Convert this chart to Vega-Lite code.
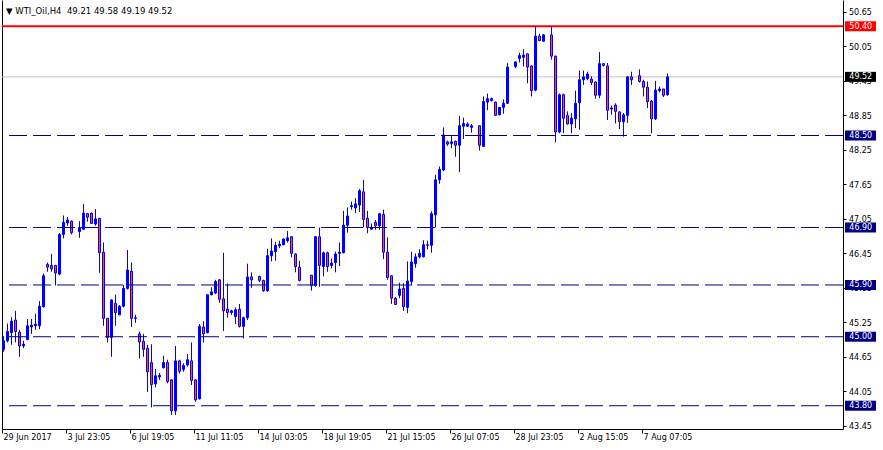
{
  "$schema": "https://vega.github.io/schema/vega-lite/v6.json",
  "width": 841,
  "height": 429,
  "autosize": {"type": "none"},
  "padding": {"left": 2, "top": 0, "right": 40, "bottom": 21},
  "background": "#ffffff",
  "config": {
    "view": {"stroke": null},
    "axis": {"grid": false}
  },
  "datasets": {
    "header": [
      {"text": "▼\u00a0WTI_Oil,H4\u00a0\u00a049.21 49.58 49.19 49.52"}
    ],
    "candles": [
      {"i":0,"o":44.78,"h":45.01,"l":44.74,"c":44.93},
      {"i":1,"o":44.93,"h":45.23,"l":44.90,"c":45.09},
      {"i":2,"o":45.07,"h":45.34,"l":44.86,"c":45.27},
      {"i":3,"o":45.29,"h":45.45,"l":44.90,"c":45.09},
      {"i":4,"o":45.08,"h":45.12,"l":44.65,"c":44.84},
      {"i":5,"o":44.84,"h":44.93,"l":44.80,"c":44.87},
      {"i":6,"o":44.95,"h":45.31,"l":44.94,"c":45.19},
      {"i":7,"o":45.17,"h":45.31,"l":45.05,"c":45.20},
      {"i":8,"o":45.19,"h":45.40,"l":45.12,"c":45.22},
      {"i":9,"o":45.19,"h":45.62,"l":45.13,"c":45.53},
      {"i":10,"o":45.52,"h":46.10,"l":45.51,"c":46.06},
      {"i":11,"o":46.26,"h":46.29,"l":46.13,"c":46.21},
      {"i":12,"o":46.24,"h":46.44,"l":46.13,"c":46.18},
      {"i":13,"o":46.24,"h":46.25,"l":45.89,"c":46.11},
      {"i":14,"o":46.09,"h":46.80,"l":46.07,"c":46.78},
      {"i":15,"o":46.78,"h":47.11,"l":46.71,"c":46.99},
      {"i":16,"o":46.98,"h":47.08,"l":46.93,"c":47.03},
      {"i":17,"o":47.01,"h":47.02,"l":46.78,"c":46.81},
      {"i":19,"o":46.83,"h":47.01,"l":46.72,"c":46.90},
      {"i":20,"o":46.87,"h":47.31,"l":46.86,"c":47.15},
      {"i":21,"o":47.14,"h":47.15,"l":47.00,"c":47.08},
      {"i":22,"o":47.15,"h":47.16,"l":46.96,"c":46.97},
      {"i":23,"o":46.96,"h":47.22,"l":46.93,"c":47.05},
      {"i":24,"o":47.06,"h":47.06,"l":46.11,"c":46.46},
      {"i":25,"o":46.47,"h":46.64,"l":45.19,"c":45.32},
      {"i":26,"o":45.32,"h":45.32,"l":44.90,"c":44.99},
      {"i":27,"o":44.99,"h":45.65,"l":44.65,"c":45.64},
      {"i":28,"o":45.58,"h":45.73,"l":45.19,"c":45.42},
      {"i":29,"o":45.38,"h":45.55,"l":45.38,"c":45.53},
      {"i":30,"o":45.53,"h":45.90,"l":45.51,"c":45.84},
      {"i":31,"o":45.84,"h":46.51,"l":45.82,"c":46.16},
      {"i":32,"o":46.14,"h":46.29,"l":45.17,"c":45.32},
      {"i":33,"o":45.32,"h":45.38,"l":45.24,"c":45.33},
      {"i":34,"o":45.05,"h":45.09,"l":44.62,"c":44.91},
      {"i":35,"o":44.92,"h":45.05,"l":44.65,"c":44.78},
      {"i":36,"o":44.80,"h":44.86,"l":44.04,"c":44.39},
      {"i":37,"o":44.55,"h":44.87,"l":43.77,"c":44.17},
      {"i":38,"o":44.18,"h":44.44,"l":44.12,"c":44.32},
      {"i":39,"o":44.30,"h":44.37,"l":44.25,"c":44.33},
      {"i":40,"o":44.46,"h":44.67,"l":44.45,"c":44.55},
      {"i":41,"o":44.55,"h":44.60,"l":44.19,"c":44.22},
      {"i":42,"o":44.25,"h":44.26,"l":43.64,"c":43.71},
      {"i":43,"o":43.71,"h":44.84,"l":43.64,"c":44.58},
      {"i":44,"o":44.58,"h":44.60,"l":44.36,"c":44.40},
      {"i":45,"o":44.43,"h":44.54,"l":44.39,"c":44.50},
      {"i":46,"o":44.51,"h":44.70,"l":44.48,"c":44.60},
      {"i":47,"o":44.58,"h":44.90,"l":44.16,"c":44.24},
      {"i":48,"o":44.25,"h":44.26,"l":43.87,"c":43.90},
      {"i":49,"o":43.92,"h":45.22,"l":43.91,"c":45.18},
      {"i":50,"o":45.17,"h":45.27,"l":44.90,"c":45.05},
      {"i":51,"o":45.07,"h":45.73,"l":45.06,"c":45.73},
      {"i":52,"o":45.73,"h":45.86,"l":45.72,"c":45.78},
      {"i":53,"o":45.76,"h":45.99,"l":45.74,"c":45.96},
      {"i":54,"o":45.99,"h":46.00,"l":45.59,"c":45.65},
      {"i":55,"o":45.66,"h":46.46,"l":45.10,"c":45.45},
      {"i":56,"o":45.48,"h":45.93,"l":45.33,"c":45.42},
      {"i":57,"o":45.42,"h":45.47,"l":45.38,"c":45.45},
      {"i":58,"o":45.35,"h":45.51,"l":45.22,"c":45.47},
      {"i":59,"o":45.48,"h":45.57,"l":45.16,"c":45.18},
      {"i":60,"o":45.18,"h":45.35,"l":44.97,"c":45.33},
      {"i":61,"o":45.33,"h":46.27,"l":45.29,"c":46.04},
      {"i":62,"o":46.04,"h":46.12,"l":45.85,"c":45.99},
      {"i":64,"o":46.05,"h":46.06,"l":45.95,"c":45.98},
      {"i":65,"o":45.98,"h":45.99,"l":45.78,"c":45.80},
      {"i":66,"o":45.80,"h":46.53,"l":45.78,"c":46.41},
      {"i":67,"o":46.41,"h":46.71,"l":46.31,"c":46.49},
      {"i":68,"o":46.48,"h":46.65,"l":46.32,"c":46.59},
      {"i":69,"o":46.58,"h":46.67,"l":46.54,"c":46.61},
      {"i":70,"o":46.60,"h":46.71,"l":46.59,"c":46.70},
      {"i":71,"o":46.67,"h":46.84,"l":46.64,"c":46.72},
      {"i":72,"o":46.74,"h":46.74,"l":46.38,"c":46.45},
      {"i":73,"o":46.44,"h":46.45,"l":46.12,"c":46.22},
      {"i":74,"o":46.21,"h":46.32,"l":45.96,"c":45.98},
      {"i":77,"o":46.07,"h":46.07,"l":45.80,"c":45.89},
      {"i":78,"o":45.89,"h":46.74,"l":45.87,"c":46.74},
      {"i":79,"o":46.74,"h":46.90,"l":45.87,"c":46.24},
      {"i":80,"o":46.22,"h":46.48,"l":46.05,"c":46.46},
      {"i":81,"o":46.46,"h":46.48,"l":46.13,"c":46.22},
      {"i":82,"o":46.24,"h":46.36,"l":46.19,"c":46.28},
      {"i":83,"o":46.29,"h":46.48,"l":46.12,"c":46.44},
      {"i":84,"o":46.45,"h":46.64,"l":46.23,"c":46.47},
      {"i":85,"o":46.46,"h":47.19,"l":46.45,"c":46.94},
      {"i":86,"o":46.94,"h":47.25,"l":46.81,"c":47.10},
      {"i":87,"o":47.26,"h":47.35,"l":47.21,"c":47.28},
      {"i":88,"o":47.24,"h":47.41,"l":47.15,"c":47.31},
      {"i":89,"o":47.29,"h":47.57,"l":47.17,"c":47.54},
      {"i":90,"o":47.52,"h":47.73,"l":46.90,"c":47.04},
      {"i":91,"o":47.06,"h":47.19,"l":46.80,"c":46.90},
      {"i":92,"o":46.87,"h":46.97,"l":46.86,"c":46.90},
      {"i":93,"o":46.99,"h":47.03,"l":46.86,"c":46.93},
      {"i":94,"o":46.93,"h":47.15,"l":46.86,"c":47.14},
      {"i":95,"o":47.13,"h":47.21,"l":46.35,"c":46.47},
      {"i":96,"o":46.47,"h":46.73,"l":45.99,"c":46.03},
      {"i":97,"o":46.06,"h":46.07,"l":45.57,"c":45.67},
      {"i":98,"o":45.67,"h":45.69,"l":45.55,"c":45.56},
      {"i":99,"o":45.72,"h":45.94,"l":45.67,"c":45.83},
      {"i":100,"o":45.84,"h":45.93,"l":45.45,"c":45.52},
      {"i":101,"o":45.51,"h":46.31,"l":45.41,"c":45.97},
      {"i":102,"o":45.96,"h":46.48,"l":45.89,"c":46.30},
      {"i":103,"o":46.27,"h":46.45,"l":46.20,"c":46.39},
      {"i":104,"o":46.39,"h":46.52,"l":46.36,"c":46.45},
      {"i":105,"o":46.39,"h":46.68,"l":46.38,"c":46.60},
      {"i":106,"o":46.59,"h":46.67,"l":46.52,"c":46.60},
      {"i":107,"o":46.59,"h":47.18,"l":46.46,"c":47.14},
      {"i":108,"o":47.12,"h":47.82,"l":46.90,"c":47.73},
      {"i":109,"o":47.73,"h":47.96,"l":47.66,"c":47.91},
      {"i":110,"o":47.90,"h":48.64,"l":47.88,"c":48.51},
      {"i":111,"o":48.39,"h":48.41,"l":48.32,"c":48.35},
      {"i":112,"o":48.36,"h":48.49,"l":48.28,"c":48.39},
      {"i":113,"o":48.40,"h":48.41,"l":48.13,"c":48.33},
      {"i":114,"o":48.33,"h":48.84,"l":47.86,"c":48.67},
      {"i":115,"o":48.66,"h":48.81,"l":48.44,"c":48.71},
      {"i":116,"o":48.66,"h":48.73,"l":48.65,"c":48.70},
      {"i":117,"o":48.64,"h":48.70,"l":48.55,"c":48.67},
      {"i":119,"o":48.67,"h":48.68,"l":48.24,"c":48.33},
      {"i":120,"o":48.31,"h":49.18,"l":48.31,"c":49.09},
      {"i":121,"o":49.08,"h":49.23,"l":48.94,"c":49.14},
      {"i":122,"o":49.11,"h":49.16,"l":49.09,"c":49.14},
      {"i":123,"o":49.08,"h":49.09,"l":48.84,"c":48.85},
      {"i":124,"o":48.86,"h":48.99,"l":48.85,"c":48.99},
      {"i":125,"o":48.99,"h":49.13,"l":48.88,"c":49.06},
      {"i":126,"o":49.06,"h":49.76,"l":49.05,"c":49.69},
      {"i":128,"o":49.70,"h":49.79,"l":49.67,"c":49.78},
      {"i":129,"o":49.84,"h":49.94,"l":49.77,"c":49.89},
      {"i":130,"o":49.86,"h":50.00,"l":49.70,"c":49.90},
      {"i":131,"o":49.92,"h":49.93,"l":49.41,"c":49.69},
      {"i":132,"o":49.71,"h":49.72,"l":49.18,"c":49.28},
      {"i":133,"o":49.29,"h":50.41,"l":49.27,"c":50.23},
      {"i":134,"o":50.23,"h":50.27,"l":50.14,"c":50.15},
      {"i":135,"o":50.14,"h":50.26,"l":50.14,"c":50.25},
      {"i":137,"o":50.25,"h":50.41,"l":49.82,"c":49.88},
      {"i":138,"o":49.88,"h":49.89,"l":48.38,"c":48.56},
      {"i":139,"o":48.56,"h":49.23,"l":48.54,"c":49.21},
      {"i":140,"o":49.21,"h":49.23,"l":48.54,"c":48.80},
      {"i":141,"o":48.85,"h":48.92,"l":48.69,"c":48.70},
      {"i":142,"o":48.70,"h":48.89,"l":48.54,"c":48.80},
      {"i":143,"o":48.79,"h":49.28,"l":48.63,"c":49.06},
      {"i":144,"o":49.07,"h":49.63,"l":48.60,"c":49.47},
      {"i":145,"o":49.47,"h":49.63,"l":49.38,"c":49.52},
      {"i":146,"o":49.49,"h":49.61,"l":49.46,"c":49.57},
      {"i":147,"o":49.48,"h":49.53,"l":49.38,"c":49.42},
      {"i":148,"o":49.43,"h":49.44,"l":49.14,"c":49.20},
      {"i":149,"o":49.20,"h":49.95,"l":49.15,"c":49.75},
      {"i":150,"o":49.75,"h":49.76,"l":49.70,"c":49.72},
      {"i":151,"o":49.71,"h":49.76,"l":48.77,"c":48.94},
      {"i":152,"o":48.96,"h":49.02,"l":48.86,"c":48.98},
      {"i":153,"o":49.03,"h":49.06,"l":48.71,"c":48.92},
      {"i":154,"o":48.91,"h":48.92,"l":48.61,"c":48.74},
      {"i":155,"o":48.74,"h":48.89,"l":48.48,"c":48.86},
      {"i":156,"o":48.85,"h":49.53,"l":48.72,"c":49.52},
      {"i":157,"o":49.52,"h":49.61,"l":49.38,"c":49.47},
      {"i":159,"o":49.54,"h":49.65,"l":49.42,"c":49.44},
      {"i":160,"o":49.44,"h":49.47,"l":49.18,"c":49.34},
      {"i":161,"o":49.34,"h":49.44,"l":48.98,"c":49.09},
      {"i":162,"o":49.10,"h":49.12,"l":48.54,"c":48.79},
      {"i":163,"o":48.79,"h":49.45,"l":48.77,"c":49.29},
      {"i":164,"o":49.28,"h":49.35,"l":49.25,"c":49.31},
      {"i":165,"o":49.31,"h":49.31,"l":49.17,"c":49.20},
      {"i":166,"o":49.21,"h":49.58,"l":49.19,"c":49.52}
    ],
    "levels": [
      {"price": 50.40, "kind": "high"},
      {"price": 49.52, "kind": "bid"},
      {"price": 48.50, "kind": "level"},
      {"price": 46.90, "kind": "level"},
      {"price": 45.90, "kind": "level"},
      {"price": 45.00, "kind": "level"},
      {"price": 43.80, "kind": "level"}
    ]
  },
  "resolve": {"axis": {"y": "independent"}},
  "layer": [
    {
      "data": {"name": "levels"},
      "transform": [{"filter": "datum.kind === 'bid'"}],
      "mark": {"type": "rule", "color": "#c0c0c0", "strokeWidth": 1},
      "encoding": {
        "y": {
          "field": "price", "type": "quantitative",
          "scale": {"domain": [43.395, 50.857], "nice": false, "zero": false, "padding": 0},
          "axis": {"orient": "left", "labels": false, "ticks": false, "domain": true, "domainColor": "#000000", "title": null, "grid": false}
        }
      }
    },
    {
      "data": {"name": "candles"},
      "mark": {"type": "rule", "color": "#0000ff", "strokeWidth": 1},
      "encoding": {
        "x": {
          "field": "i", "type": "quantitative",
          "scale": {"domain": [-0.375, 209.875], "nice": false, "zero": false, "padding": 0},
          "axis": {
            "orient": "bottom",
            "values": [-0.375, 15.625, 31.625, 47.625, 63.625, 79.625, 95.625, 111.625, 127.625, 143.625, 159.625],
            "labelExpr": "['29 Jun 2017','3 Jul 23:05','6 Jul 19:05','11 Jul 11:05','14 Jul 03:05','18 Jul 19:05','21 Jul 15:05','26 Jul 07:05','28 Jul 23:05','2 Aug 15:05','7 Aug 07:05'][round((datum.value + 0.375) / 16)]",
            "title": null, "grid": false,
            "domainColor": "#000000", "tickColor": "#000000", "tickSize": 4,
            "labelColor": "#000000", "labelFont": "DejaVu Sans", "labelFontSize": 8,
            "labelAlign": "left", "labelBaseline": "alphabetic", "labelPadding": 6.5,
            "labelOverlap": false, "labelOffset": 1, "labelFlush": false
          }
        },
        "y": {
          "field": "l", "type": "quantitative",
          "axis": {
            "orient": "right",
            "values": [43.45, 44.05, 44.65, 45.25, 45.85, 46.45, 47.05, 47.65, 48.25, 48.85, 49.45, 50.05, 50.65],
            "format": ".2f", "title": null, "grid": false,
            "domainColor": "#000000", "tickColor": "#000000", "tickSize": 3,
            "labelColor": "#000000", "labelFont": "DejaVu Sans", "labelFontSize": 8,
            "labelPadding": 2.5, "labelAlign": "left", "labelBaseline": "middle",
            "labelOverlap": false, "labelOffset": 1
          }
        },
        "y2": {"field": "h"}
      }
    },
    {
      "data": {"name": "candles"},
      "mark": {"type": "bar", "size": 2, "stroke": "#0000ff", "strokeWidth": 1},
      "encoding": {
        "x": {"field": "i", "type": "quantitative"},
        "y": {"field": "o", "type": "quantitative", "axis": null},
        "y2": {"field": "c"},
        "fill": {"condition": {"test": "datum.c < datum.o", "value": "#ff4d1a"}, "value": "#0000ff"}
      }
    },
    {
      "data": {"name": "levels"},
      "transform": [{"filter": "datum.kind === 'level'"}],
      "mark": {"type": "rule", "color": "#000080", "strokeWidth": 1, "strokeDash": [18, 6]},
      "encoding": {
        "y": {"field": "price", "type": "quantitative", "axis": null}
      }
    },
    {
      "data": {"name": "levels"},
      "transform": [{"filter": "datum.kind === 'high'"}],
      "mark": {"type": "rule", "color": "#ff0000", "strokeWidth": 2},
      "encoding": {
        "y": {"field": "price", "type": "quantitative", "axis": null}
      }
    },
    {
      "data": {"name": "levels"},
      "mark": {"type": "bar", "size": 10, "orient": "horizontal"},
      "encoding": {
        "x": {"datum": 210.375, "type": "quantitative"},
        "x2": {"datum": 218.125},
        "y": {"field": "price", "type": "quantitative", "axis": null},
        "color": {
          "field": "kind", "type": "nominal",
          "scale": {"domain": ["high", "bid", "level"], "range": ["#ff0000", "#000000", "#000080"]},
          "legend": null
        }
      }
    },
    {
      "data": {"name": "levels"},
      "mark": {"type": "text", "align": "left", "baseline": "middle", "color": "#ffffff", "font": "DejaVu Sans", "fontSize": 8, "dy": 0.5},
      "encoding": {
        "x": {"datum": 211.45, "type": "quantitative"},
        "y": {"field": "price", "type": "quantitative", "axis": null},
        "text": {"field": "price", "type": "quantitative", "format": ".2f"}
      }
    },
    {
      "data": {"name": "header"},
      "mark": {"type": "text", "align": "left", "baseline": "alphabetic", "color": "#000000", "font": "DejaVu Sans", "fontSize": 8.5},
      "encoding": {
        "x": {"datum": 0.625, "type": "quantitative"},
        "y": {"datum": 50.617, "type": "quantitative", "axis": null},
        "text": {"field": "text", "type": "nominal"}
      }
    }
  ]
}
